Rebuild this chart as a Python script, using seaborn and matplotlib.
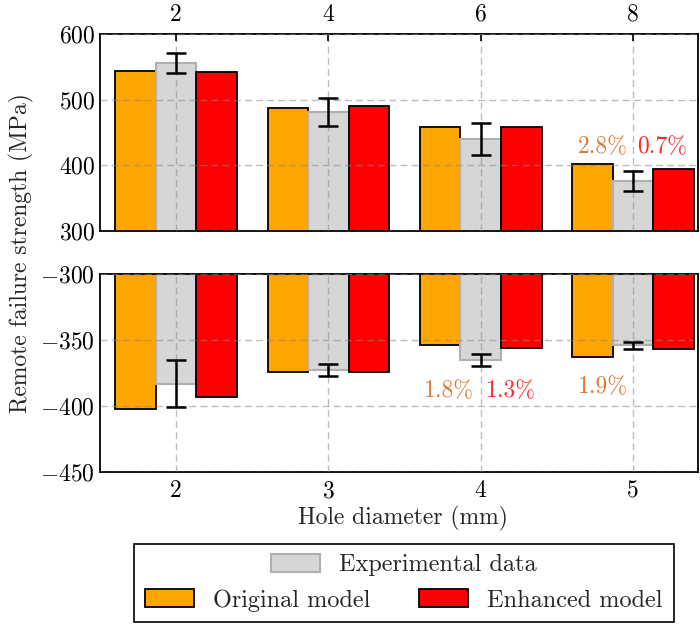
import numpy as np
import pandas as pd
import matplotlib
matplotlib.use("Agg")
import matplotlib.pyplot as plt
import seaborn as sns
from matplotlib.patches import Patch

sns.set_style("white")
plt.rcParams['font.family'] = ['cmr10', 'DejaVu Serif']
plt.rcParams['mathtext.fontset'] = 'cm'
plt.rcParams['axes.formatter.use_mathtext'] = True
plt.rcParams['font.size'] = 17

FS = 17
LFS = 17.5

# ---- data ----
models = ["Original model", "Experimental data", "Enhanced model"]
tens_diam = ["2", "4", "6", "8"]
comp_diam = ["2", "3", "4", "5"]

tens_original = [544, 488, 458, 402]
tens_exp = [556, 481, 440, 376]
tens_exp_err = [15, 21, 25, 15]
tens_enhanced = [542, 490, 458, 394]

comp_original = [-402, -374, -354, -363]
comp_exp = [-383, -373, -365, -354]
comp_exp_err = [18, 4.5, 4.7, 2.7]
comp_enhanced = [-393, -374, -356, -357]

tens_notes = [("2.8%", 2.80, 428, "orig"), ("0.7%", 3.19, 428, "enh")]
comp_notes = [("1.8%", 1.79, -389, "orig"), ("1.3%", 2.20, -389, "enh"), ("1.9%", 2.80, -386, "orig")]

colors = {"Original model": "#ffa500", "Experimental data": "#d6d6d6", "Enhanced model": "#ff0000"}
note_colors = {"orig": "#db7a35", "enh": "#ff2a2a"}

def long_df(diams, orig, exp, enh):
    rows = []
    for i, d in enumerate(diams):
        rows.append((d, "Original model", orig[i]))
        rows.append((d, "Experimental data", exp[i]))
        rows.append((d, "Enhanced model", enh[i]))
    return pd.DataFrame(rows, columns=["diam", "model", "value"])

fig = plt.figure(figsize=(7, 6.25), dpi=100)
W, H = 700, 625
ax1 = fig.add_axes([100 / W, 1 - 231 / H, 598 / W, 197 / H])
ax2 = fig.add_axes([100 / W, 1 - 472 / H, 598 / W, 198 / H])

def draw(ax, diams, orig, exp, err, enh, ylim, yticks):
    df = long_df(diams, orig, exp, enh)
    sns.barplot(data=df, x="diam", y="value", hue="model", hue_order=models,
                palette=colors, order=diams, width=0.8, ax=ax, legend=False,
                errorbar=None, saturation=1, linewidth=1.3, edgecolor="black")
    exp_container = ax.containers[1]
    for p in exp_container.patches:
        p.set_edgecolor("#b0b0b0")
        p.set_linewidth(1.5)
    xs = [p.get_x() + p.get_width() / 2 for p in exp_container.patches]
    ax.errorbar(xs, exp, yerr=err, fmt="none", ecolor="black", elinewidth=1.8,
                capsize=7, capthick=1.8, zorder=5)
    ax.set_ylim(*ylim)
    ax.set_yticks(yticks)
    ax.set_xlim(-0.5, 3.427)
    ax.set_xlabel("")
    ax.set_ylabel("")
    ax.set_axisbelow(False)
    ax.grid(True, linestyle=(0, (5, 3)), color="#888888", alpha=0.55, linewidth=1)
    for s in ax.spines.values():
        s.set_linewidth(1.3)
        s.set_color("black")
    ax.tick_params(direction="in", length=5, width=1.2, labelsize=FS, colors="black")

draw(ax1, tens_diam, tens_original, tens_exp, tens_exp_err, tens_enhanced, (300, 600), [300, 400, 500, 600])
draw(ax2, comp_diam, comp_original, comp_exp, comp_exp_err, comp_enhanced, (-450, -300), [-450, -400, -350, -300])

ax1.xaxis.tick_top()
ax1.set_xticks(range(len(tens_diam)))
ax1.set_xticklabels(tens_diam)
ax1.tick_params(axis="x", pad=6)
ax2.set_xticks(range(len(comp_diam)))
ax2.set_xticklabels(comp_diam)
ax2.tick_params(axis="x", pad=6)

for txt, x, y, c in tens_notes:
    ax1.text(x, y, txt, color=note_colors[c], ha="center", va="center", fontsize=FS, zorder=6)
for txt, x, y, c in comp_notes:
    ax2.text(x, y, txt, color=note_colors[c], ha="center", va="center", fontsize=FS, zorder=6)

fig.text(21 / W, 1 - 253 / H, "Remote failure strength (MPa)", rotation=90,
         ha="center", va="center", fontsize=FS)
fig.text(403 / W, 1 - 518 / H, "Hole diameter (mm)", ha="center", va="center", fontsize=FS)

h_orig = Patch(facecolor=colors["Original model"], edgecolor="black", linewidth=1.3)
h_exp = Patch(facecolor=colors["Experimental data"], edgecolor="#b0b0b0", linewidth=1.5)
h_enh = Patch(facecolor=colors["Enhanced model"], edgecolor="black", linewidth=1.3)

legA = fig.legend([h_orig, h_enh], ["Original model", "Enhanced model"], ncol=2,
                  loc="center", bbox_to_anchor=(404 / W, 1 - 583 / H),
                  frameon=True, fancybox=False, edgecolor="black", framealpha=1,
                  title=" ", title_fontsize=LFS, fontsize=LFS,
                  handlelength=2.0, handleheight=0.8, handletextpad=0.8,
                  columnspacing=2.0, borderpad=0.45)
legA.get_frame().set_linewidth(1.2)
legB = fig.legend([h_exp], ["Experimental data"], loc="center",
                  bbox_to_anchor=(404 / W, 1 - 565 / H), frameon=False, fontsize=LFS,
                  handlelength=2.0, handleheight=0.8, handletextpad=0.8)

fig.savefig("out.png", dpi=100)
